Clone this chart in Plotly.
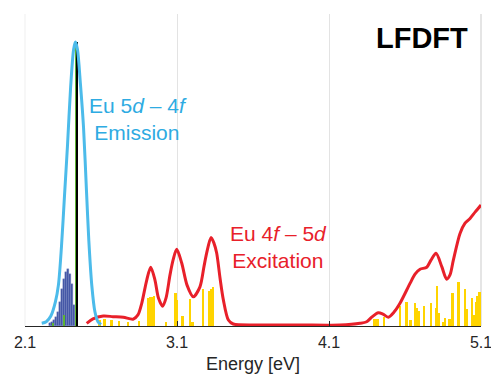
import plotly.graph_objects as go

# ---------------- data ----------------
# Emission curve (Eu 5d-4f), energy [eV] / normalized intensity
em_E = [2.21, 2.24, 2.27, 2.30, 2.32, 2.34, 2.36, 2.38, 2.40, 2.42, 2.432,
        2.445, 2.465, 2.485, 2.505, 2.52, 2.54, 2.56, 2.58, 2.60]
em_I = [0.010, 0.015, 0.035, 0.085, 0.145, 0.28, 0.46, 0.64, 0.84, 0.975, 1.0,
        0.975, 0.85, 0.70, 0.47, 0.30, 0.14, 0.05, 0.015, 0.005]

# Emission stick histogram (dark blue)
hist_E = [2.265, 2.278, 2.291, 2.304, 2.317, 2.330, 2.343, 2.357, 2.370,
          2.383, 2.396, 2.409, 2.422, 2.434]
hist_I = [0.011, 0.014, 0.020, 0.032, 0.049, 0.085, 0.131, 0.167, 0.190,
          0.202, 0.184, 0.149, 0.073, 0.039]

# Green sticks
green_E = [2.284, 2.357, 2.437]
green_I = [0.010, 0.038, 1.0]

# Black stick (zero-phonon line)
black_E = [2.446]
black_I = [1.0]

# Excitation curve (Eu 4f-5d)
ex_E = [2.506, 2.547, 2.615, 2.679, 2.747, 2.811, 2.843, 2.868, 2.901, 2.927,
        2.955, 2.978, 3.006, 3.028, 3.054, 3.074, 3.098, 3.131, 3.166, 3.207,
        3.251, 3.278, 3.295, 3.324, 3.343, 3.361, 3.383, 3.405, 3.438, 3.470,
        3.646, 3.909, 4.172, 4.304, 4.348, 4.383, 4.424, 4.455, 4.490, 4.528,
        4.567, 4.633, 4.666, 4.699, 4.743, 4.771, 4.804, 4.842, 4.874, 4.896,
        4.918, 4.962, 4.995, 5.028, 5.061, 5.100]
ex_I = [0.0095, 0.025, 0.035, 0.033, 0.031, 0.024, 0.039, 0.080, 0.162, 0.207,
        0.162, 0.099, 0.070, 0.099, 0.180, 0.232, 0.270, 0.222, 0.144, 0.103,
        0.138, 0.211, 0.257, 0.312, 0.292, 0.257, 0.169, 0.092, 0.021, 0.007,
        0.0035, 0.0035, 0.0035, 0.0095, 0.015, 0.032, 0.047, 0.042, 0.031, 0.049,
        0.080, 0.150, 0.183, 0.200, 0.207, 0.232, 0.256, 0.209, 0.165, 0.180,
        0.232, 0.326, 0.362, 0.379, 0.401, 0.426]

# Excitation sticks (yellow)
st_E = [2.593, 2.626, 2.670, 2.720, 2.780, 2.852, 2.911, 2.924, 2.937, 2.950,
        3.028, 3.091, 3.102, 3.137, 3.186, 3.203, 3.273, 3.313, 3.326, 3.339,
        4.400, 4.420, 4.462, 4.567, 4.611, 4.637, 4.666, 4.677, 4.692, 4.725,
        4.771, 4.804, 4.811, 4.824, 4.852, 4.866, 4.891, 4.900, 4.914, 4.953,
        4.995, 5.006, 5.043, 5.054, 5.067, 5.076, 5.093]
st_I = [0.021, 0.025, 0.021, 0.019, 0.015, 0.019, 0.097, 0.101, 0.103, 0.106,
        0.015, 0.117, 0.092, 0.035, 0.094, 0.015, 0.129, 0.124, 0.129, 0.136,
        0.024, 0.024, 0.031, 0.070, 0.086, 0.021, 0.080, 0.062, 0.053, 0.072,
        0.080, 0.062, 0.142, 0.045, 0.015, 0.027, 0.024, 0.024, 0.115, 0.154,
        0.130, 0.059, 0.097, 0.039, 0.086, 0.106, 0.121]

x_ticks = [2.1, 3.1, 4.1, 5.1]
x_ticklabels = ["2.1", "3.1", "4.1", "5.1"]

FONT = "Liberation Sans, Arial, Helvetica, sans-serif"
BLUE = "#4cbbea"
BLUE_TXT = "#2eabe2"
RED = "#e8202a"
YELLOW = "#ffd400"
DARKBLUE = "#3e50a2"
GREEN = "#5db333"

fig = go.Figure()

fig.add_trace(go.Bar(x=st_E, y=st_I, width=0.013, marker_color=YELLOW,
                     marker_line_width=0, showlegend=False))
fig.add_trace(go.Bar(x=hist_E, y=hist_I, width=0.0115, marker_color=DARKBLUE,
                     marker_line=dict(width=0.4, color="#8090c8"), showlegend=False))
fig.add_trace(go.Bar(x=green_E, y=green_I, width=0.005, marker_color=GREEN,
                     marker_line_width=0, showlegend=False))
fig.add_trace(go.Bar(x=black_E, y=black_I, width=0.010, marker_color="black",
                     marker_line_width=0, showlegend=False))
fig.add_trace(go.Scatter(x=ex_E, y=ex_I, mode="lines",
                         line=dict(color=RED, width=3, shape="spline", smoothing=0.8),
                         showlegend=False))
fig.add_trace(go.Scatter(x=em_E, y=em_I, mode="lines",
                         line=dict(color=BLUE, width=3, shape="spline", smoothing=0.8),
                         showlegend=False))

# frame lines at the axis ends (left faint, right grey)
fig.add_shape(type="line", xref="paper", yref="paper", x0=1, x1=1, y0=0, y1=1,
              line=dict(color="#dcdcdc", width=1.5), layer="below")
fig.add_shape(type="line", xref="paper", yref="paper", x0=0, x1=0, y0=0, y1=1,
              line=dict(color="#efefef", width=1), layer="below")

fig.add_annotation(x=5.03, y=1.014, xref="x", yref="y", text="<b>LFDFT</b>",
                   showarrow=False, xanchor="right", yanchor="middle",
                   font=dict(family=FONT, size=29, color="black"))
fig.add_annotation(x=2.843, y=0.73, xref="x", yref="y",
                   text="Eu 5<i>d</i> – 4<i>f</i><br>Emission",
                   showarrow=False, xanchor="center", yanchor="middle",
                   font=dict(family=FONT, size=21, color=BLUE_TXT))
fig.add_annotation(x=3.77, y=0.279, xref="x", yref="y",
                   text="Eu 4<i>f</i> – 5<i>d</i><br>Excitation",
                   showarrow=False, xanchor="center", yanchor="middle",
                   font=dict(family=FONT, size=21, color=RED))

fig.update_layout(
    width=491, height=374,
    margin=dict(l=25, r=10, t=14, b=48, autoexpand=False),
    paper_bgcolor="white", plot_bgcolor="white",
    barmode="overlay", bargap=0,
    font=dict(family=FONT, color="#262626"),
    xaxis=dict(range=[2.1, 5.1], tickvals=x_ticks, ticktext=x_ticklabels,
               automargin=False,
               ticks="inside", ticklen=5, tickcolor="#262626",
               ticklabelstandoff=2, ticklabeloverflow="allow",
               showline=True, linecolor="#262626", linewidth=1,
               showgrid=True, gridcolor="#e3e3e3", gridwidth=1,
               zeroline=False, tickfont=dict(size=16, color="#262626"),
               title=dict(text="Energy [eV]", font=dict(size=18, color="#262626"),
                          standoff=17)),
    yaxis=dict(range=[0, 1.099], showgrid=False, zeroline=False,
               showticklabels=False, showline=False, automargin=False),
)

fig.write_html("out.html", config={"displayModeBar": False},
               post_script="document.body.style.margin='0';document.body.style.padding='0';")
